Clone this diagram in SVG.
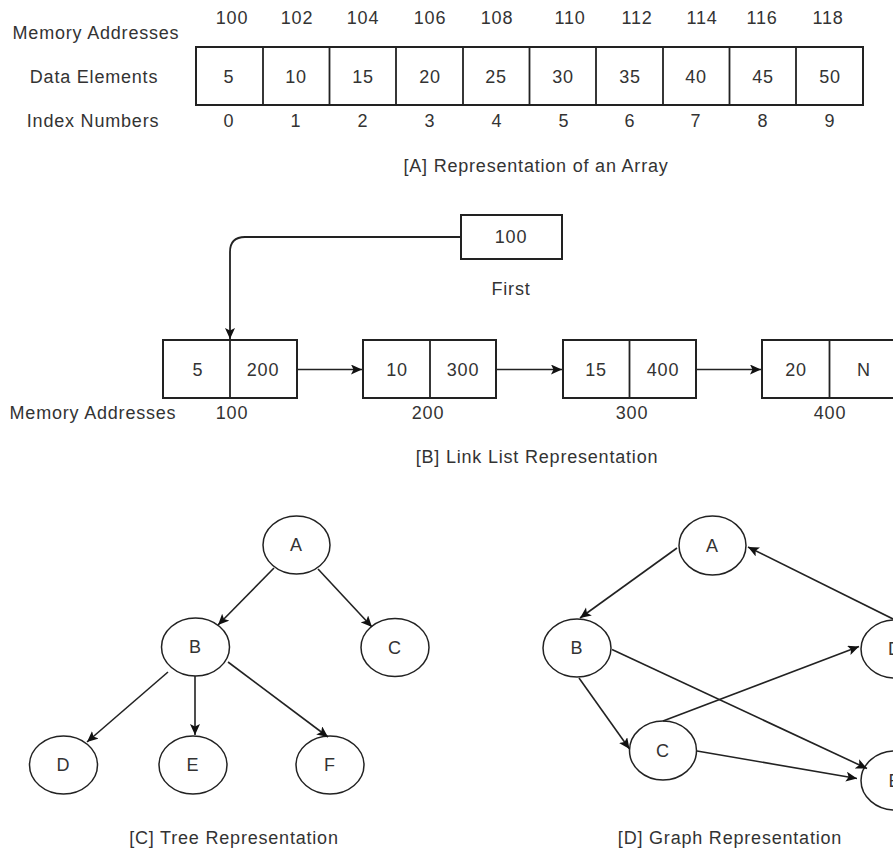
<svg xmlns="http://www.w3.org/2000/svg" width="893" height="854" viewBox="0 0 893 854">
<style>
text{font-family:"Liberation Sans",Arial,sans-serif;font-size:18px;fill:#333;text-anchor:middle;dominant-baseline:central;letter-spacing:0.8px}
.box{fill:#fff;stroke:#222;stroke-width:2}
.nd{fill:#fff;stroke:#222;stroke-width:1.5}
.ln{fill:none;stroke:#222;stroke-width:1.8}
.ed{stroke:#222;stroke-width:1.6;marker-end:url(#ah)}
</style>
<defs>
<marker id="ah" markerUnits="userSpaceOnUse" markerWidth="13" markerHeight="11" refX="11" refY="5" orient="auto">
<path d="M0,0 L11,5 L0,10 L2.5,5 z" fill="#111"/>
</marker>
</defs>
<rect width="893" height="854" fill="#fff"/>

<g id="array">
<text x="96" y="33">Memory Addresses</text>
<text x="94" y="77">Data Elements</text>
<text x="93" y="121">Index Numbers</text>
<rect class="box" x="196" y="47" width="667" height="58"/>
<path class="ln" stroke-width="2" d="M263,47V105M329.5,47V105M396,47V105M463,47V105M529.5,47V105M596,47V105M663,47V105M729.5,47V105M796,47V105"/>
<g id="addr">
<text x="232" y="18">100</text><text x="297" y="18">102</text><text x="363" y="18">104</text><text x="430" y="18">106</text><text x="497" y="18">108</text><text x="570" y="18">110</text><text x="637" y="18">112</text><text x="702" y="18">114</text><text x="762" y="18">116</text><text x="828" y="18">118</text>
</g>
<g id="vals">
<text x="229" y="77">5</text><text x="296" y="77">10</text><text x="363" y="77">15</text><text x="430" y="77">20</text><text x="496" y="77">25</text><text x="563" y="77">30</text><text x="630" y="77">35</text><text x="696" y="77">40</text><text x="763" y="77">45</text><text x="830" y="77">50</text>
</g>
<g id="idx">
<text x="229" y="121">0</text><text x="296" y="121">1</text><text x="363" y="121">2</text><text x="430" y="121">3</text><text x="497" y="121">4</text><text x="564" y="121">5</text><text x="630" y="121">6</text><text x="696" y="121">7</text><text x="763" y="121">8</text><text x="830" y="121">9</text>
</g>
<text x="536" y="166">[A] Representation of an Array</text>
</g>

<g id="first">
<rect class="box" x="461" y="215" width="101" height="44"/>
<text x="511" y="237">100</text>
<text x="511" y="289">First</text>
</g>
<g id="ll1"><rect class="box" x="163" y="340" width="134" height="58"/><path class="ln" stroke-width="2" d="M230,340V398"/><text x="198" y="370">5</text><text x="263" y="370">200</text></g>
<g id="ll2"><rect class="box" x="363" y="340" width="133" height="58"/><path class="ln" stroke-width="2" d="M430,340V398"/><text x="397" y="370">10</text><text x="463" y="370">300</text></g>
<g id="ll3"><rect class="box" x="563" y="340" width="133" height="58"/><path class="ln" stroke-width="2" d="M629.5,340V398"/><text x="596" y="370">15</text><text x="663" y="370">400</text></g>
<g id="ll4"><rect class="box" x="762" y="340" width="135" height="58"/><path class="ln" stroke-width="2" d="M829.5,340V398"/><text x="796" y="370">20</text><text x="864" y="370">N</text></g>
<g id="lllabels">
<text x="93" y="413">Memory Addresses</text>
<text x="232" y="413">100</text><text x="428" y="413">200</text><text x="632" y="413">300</text><text x="830" y="413">400</text>
<text x="537" y="457">[B] Link List Representation</text>
</g>

<g id="tree">
<g id="tA"><ellipse class="nd" cx="296.5" cy="545" rx="33.5" ry="29"/><text x="296.5" y="545">A</text></g>
<g id="tB"><ellipse class="nd" cx="195.5" cy="647" rx="34" ry="29"/><text x="195.5" y="647">B</text></g>
<g id="tC"><ellipse class="nd" cx="395" cy="647.5" rx="34" ry="29"/><text x="395" y="647.5">C</text></g>
<g id="tD"><ellipse class="nd" cx="63.5" cy="765" rx="34" ry="29"/><text x="63.5" y="765">D</text></g>
<g id="tE"><ellipse class="nd" cx="193" cy="765" rx="34" ry="29"/><text x="193" y="765">E</text></g>
<g id="tF"><ellipse class="nd" cx="330" cy="765" rx="34" ry="29"/><text x="330" y="765">F</text></g>
<text x="234" y="838">[C] Tree Representation</text>
</g>

<g id="graph">
<g id="gA"><ellipse class="nd" cx="712.5" cy="545.5" rx="33.5" ry="29.5"/><text x="712.5" y="545.5">A</text></g>
<g id="gB"><ellipse class="nd" cx="577" cy="648" rx="34" ry="29"/><text x="577" y="648">B</text></g>
<g id="gC"><ellipse class="nd" cx="663" cy="750.5" rx="33.5" ry="29.5"/><text x="663" y="750.5">C</text></g>
<g id="gD"><ellipse class="nd" cx="895" cy="649" rx="34" ry="29"/><text x="895" y="649">D</text></g>
<g id="gE"><ellipse class="nd" cx="895" cy="780.5" rx="34" ry="29.5"/><text x="895" y="780.5">E</text></g>
<text x="730" y="838">[D] Graph Representation</text>
</g>

<g id="connectors">
<path class="ln" style="marker-end:url(#ah)" d="M461,237H245Q230,237 230,252V339"/>
<line class="ed" x1="297" y1="369.5" x2="362" y2="369.5"/>
<line class="ed" x1="496" y1="369.5" x2="562" y2="369.5"/>
<line class="ed" x1="696" y1="369.5" x2="761" y2="369.5"/>
<line class="ed" x1="274" y1="568" x2="218" y2="625"/>
<line class="ed" x1="318" y1="569" x2="372" y2="627"/>
<line class="ed" x1="168" y1="672" x2="87" y2="742"/>
<line class="ed" x1="195" y1="676" x2="195" y2="735"/>
<line class="ed" x1="228" y1="662" x2="328" y2="737"/>
<line class="ed" x1="677" y1="548" x2="580" y2="618"/>
<line class="ed" x1="893" y1="619" x2="748" y2="547"/>
<line class="ed" x1="663" y1="721" x2="859" y2="646.5"/>
<line class="ed" x1="612" y1="649.5" x2="867" y2="768.5"/>
<line class="ed" x1="579" y1="678" x2="629.5" y2="749"/>
<line class="ed" x1="697" y1="751" x2="857" y2="778.5"/>
</g>
</svg>
